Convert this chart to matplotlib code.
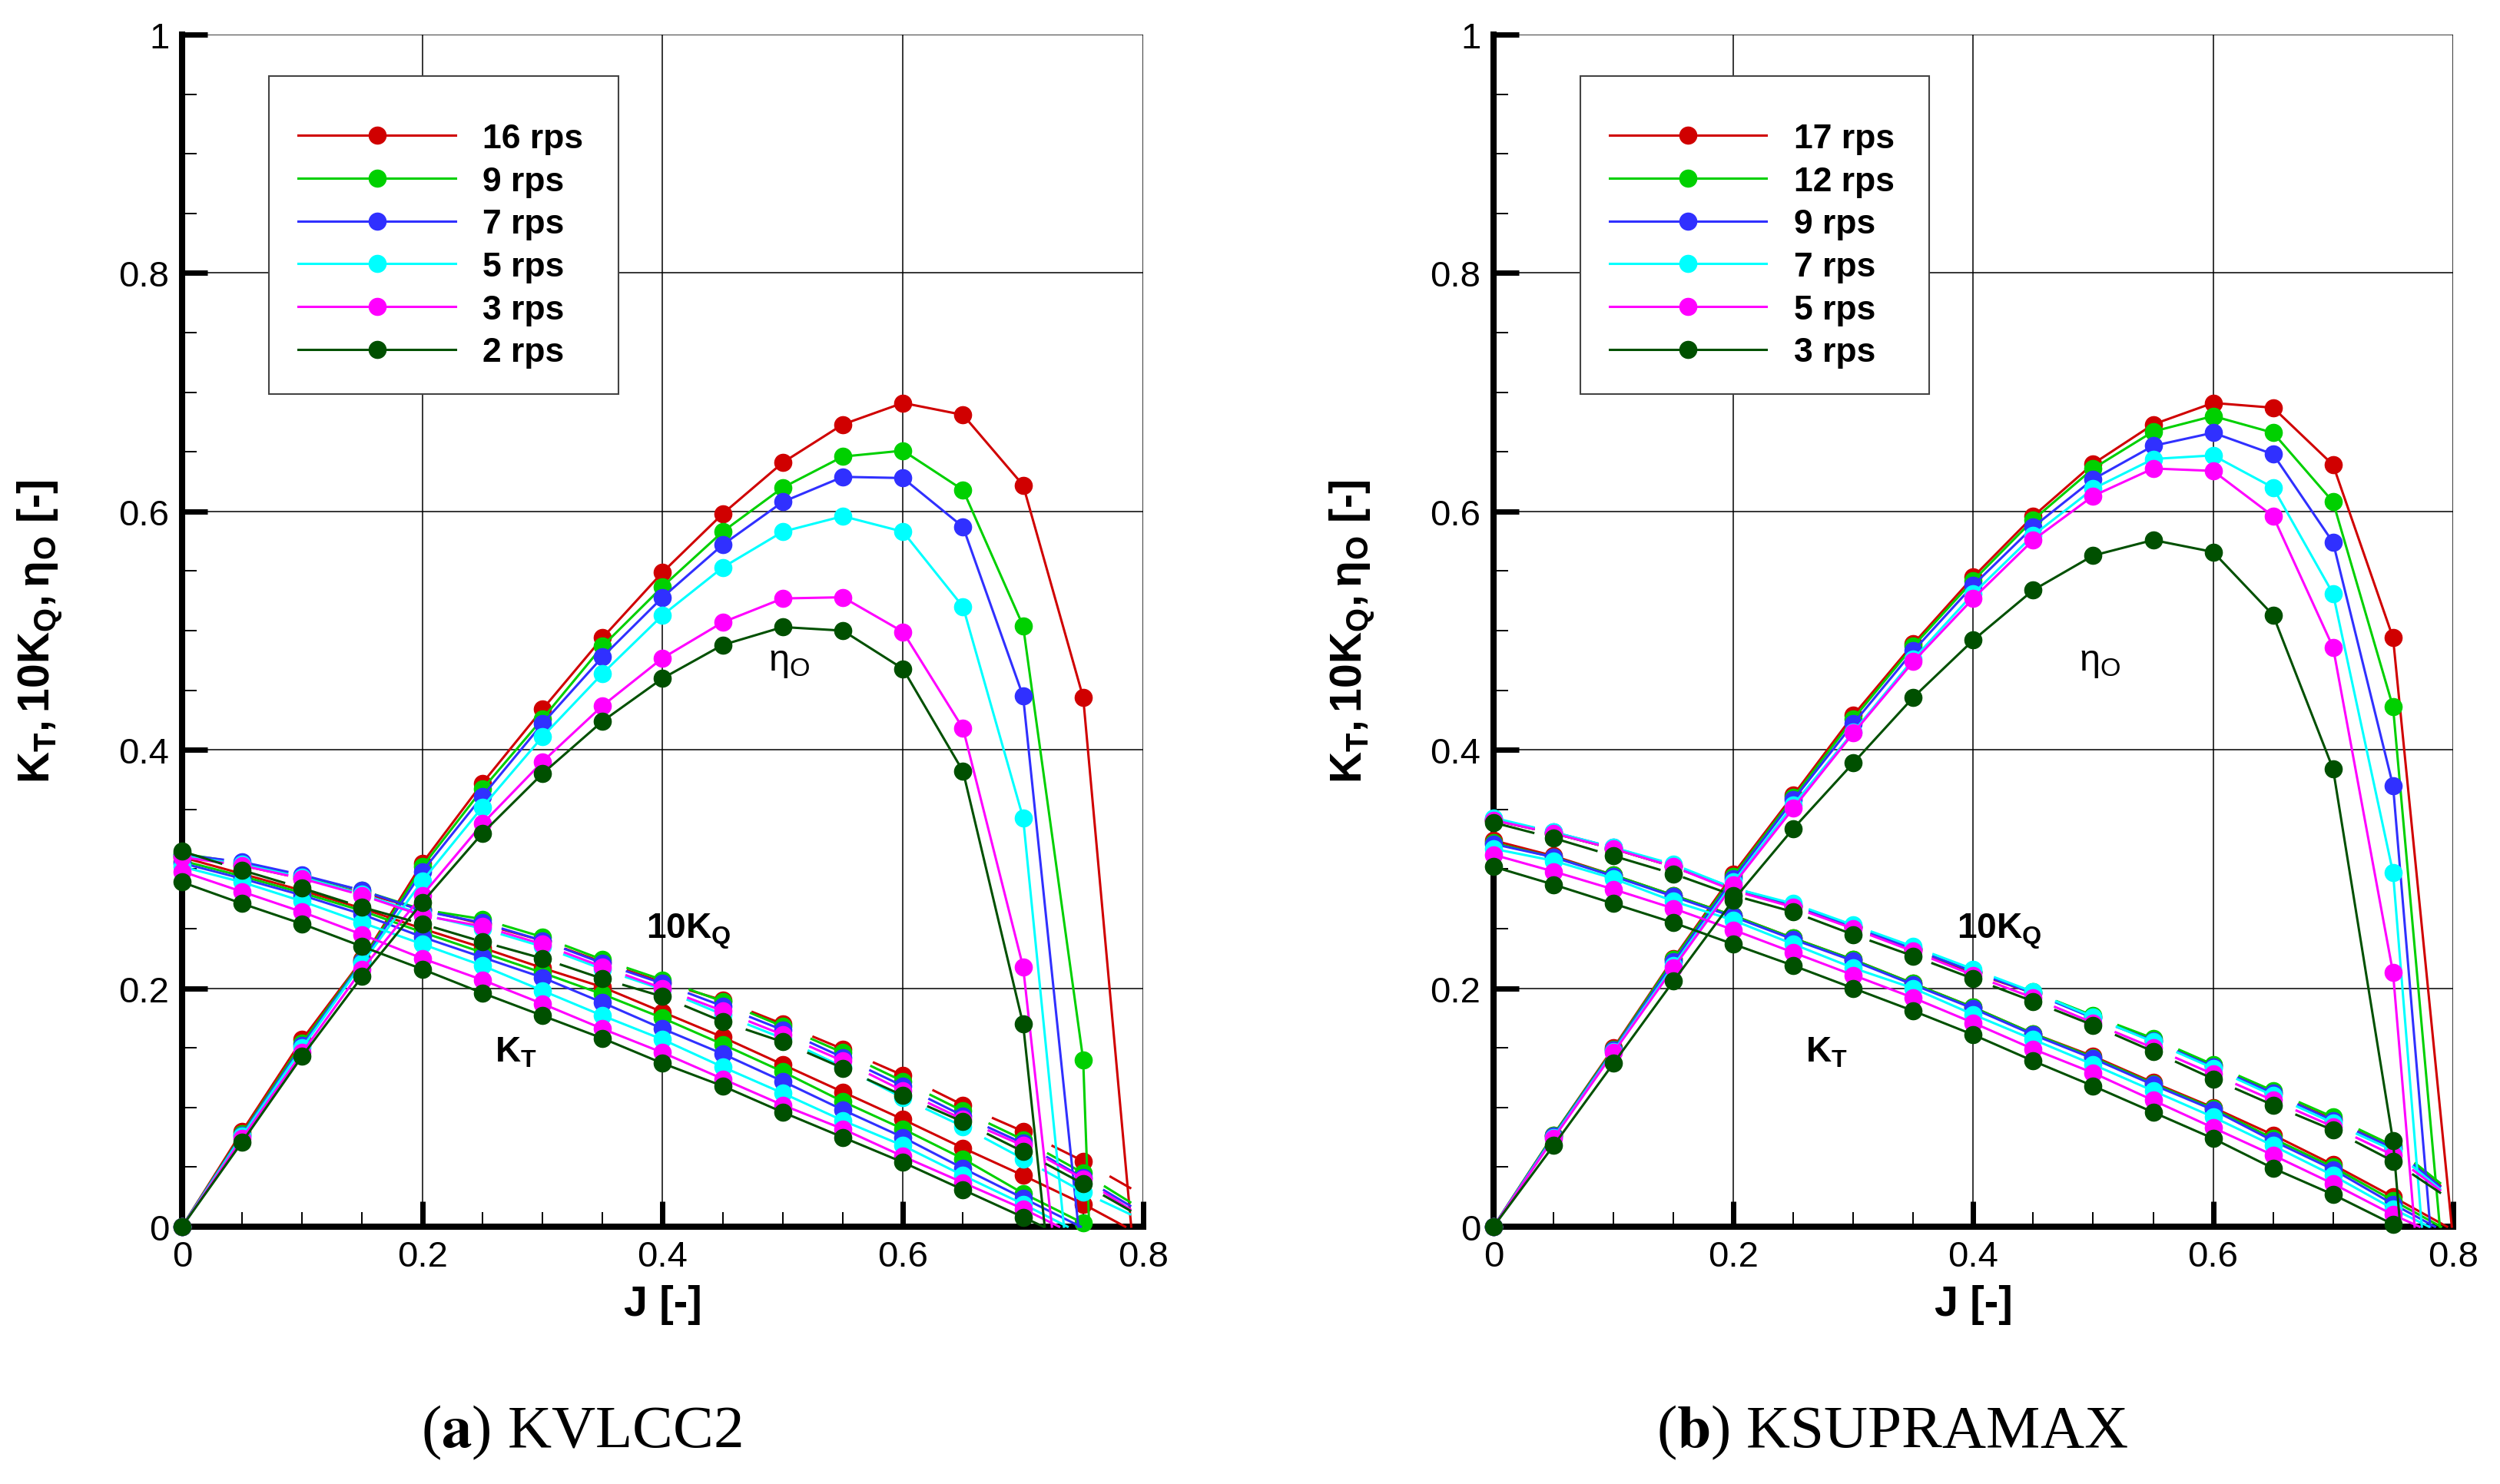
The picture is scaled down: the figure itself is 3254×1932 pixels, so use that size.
import numpy as np
import matplotlib
matplotlib.use("Agg")
from matplotlib import pyplot as plt
from matplotlib.patches import Rectangle
from matplotlib.lines import Line2D
from matplotlib.ticker import MultipleLocator, FuncFormatter

plt.rcParams['font.family'] = ['Liberation Sans', 'DejaVu Sans']
plt.rcParams['mathtext.fontset'] = 'custom'
plt.rcParams['mathtext.rm'] = 'Liberation Sans'
plt.rcParams['mathtext.it'] = 'Liberation Sans:italic'
plt.rcParams['mathtext.bf'] = 'Liberation Sans:bold'

# advance coefficient J
J = np.array([0, 0.05, 0.1, 0.15, 0.2, 0.25, 0.3, 0.35, 0.4, 0.45, 0.5, 0.55, 0.6, 0.65, 0.7, 0.75])
nan = np.nan

colors = ['#d00000', '#00d000', '#3030ff', '#00ffff', '#ff00ff', '#005000']

# ---- (a) KVLCC2 ----
kv_labels = ['16 rps', '9 rps', '7 rps', '5 rps', '3 rps', '2 rps']
kv_eta = [
    [0, 0.080, 0.157, 0.224, 0.305, 0.372, 0.434, 0.494, 0.549, 0.598, 0.641, 0.673, 0.691, 0.681, 0.622, 0.444],
    [0, 0.078, 0.154, 0.223, 0.302, 0.367, 0.426, 0.487, 0.537, 0.583, 0.620, 0.646, 0.651, 0.618, 0.504, 0.140],
    [0, 0.077, 0.152, 0.222, 0.298, 0.361, 0.422, 0.478, 0.528, 0.572, 0.608, 0.629, 0.628, 0.587, 0.445, nan],
    [0, 0.076, 0.150, 0.221, 0.290, 0.352, 0.411, 0.464, 0.513, 0.553, 0.583, 0.596, 0.583, 0.520, 0.343, nan],
    [0, 0.074, 0.146, 0.216, 0.278, 0.338, 0.390, 0.437, 0.477, 0.507, 0.527, 0.528, 0.499, 0.418, 0.218, nan],
    [0, 0.071, 0.143, 0.210, 0.272, 0.330, 0.380, 0.424, 0.460, 0.488, 0.503, 0.500, 0.468, 0.382, 0.170, nan],
]
kv_eta_zero = [0.790, 0.755, 0.746, 0.734, 0.724, 0.718]
kv_kt = [
    [0.310, 0.296, 0.282, 0.267, 0.250, 0.234, 0.217, 0.201, 0.180, 0.159, 0.136, 0.113, 0.090, 0.066, 0.043, 0.019],
    [0.307, 0.294, 0.280, 0.265, 0.247, 0.230, 0.213, 0.195, 0.175, 0.153, 0.130, 0.105, 0.082, 0.057, 0.028, 0.003],
    [0.305, 0.292, 0.278, 0.262, 0.243, 0.226, 0.209, 0.188, 0.166, 0.145, 0.122, 0.098, 0.075, 0.049, 0.024, nan],
    [0.302, 0.289, 0.273, 0.255, 0.237, 0.219, 0.198, 0.177, 0.157, 0.134, 0.112, 0.089, 0.068, 0.043, 0.019, nan],
    [0.298, 0.281, 0.264, 0.245, 0.225, 0.207, 0.187, 0.166, 0.146, 0.124, 0.102, 0.082, 0.059, 0.037, 0.015, nan],
    [0.289, 0.271, 0.254, 0.235, 0.216, 0.196, 0.177, 0.158, 0.137, 0.118, 0.096, 0.075, 0.054, 0.031, 0.008, nan],
]
kv_kt_zero = [0.785, 0.754, 0.748, 0.737, 0.730, 0.717]
kv_kq = [
    [0.312, 0.303, 0.292, 0.280, 0.266, 0.254, 0.240, 0.222, 0.205, 0.190, 0.170, 0.149, 0.127, 0.102, 0.080, 0.055],
    [0.313, 0.305, 0.294, 0.282, 0.266, 0.258, 0.243, 0.224, 0.207, 0.189, 0.168, 0.146, 0.122, 0.097, 0.073, 0.045],
    [0.312, 0.306, 0.295, 0.282, 0.265, 0.255, 0.240, 0.221, 0.204, 0.185, 0.165, 0.142, 0.118, 0.093, 0.070, 0.041],
    [0.311, 0.304, 0.293, 0.279, 0.262, 0.250, 0.235, 0.216, 0.199, 0.178, 0.158, 0.134, 0.108, 0.084, 0.057, 0.029],
    [0.310, 0.303, 0.292, 0.278, 0.261, 0.252, 0.237, 0.218, 0.200, 0.181, 0.161, 0.139, 0.114, 0.090, 0.068, 0.040],
    [0.315, 0.299, 0.284, 0.268, 0.254, 0.239, 0.225, 0.208, 0.193, 0.172, 0.155, 0.133, 0.110, 0.088, 0.063, 0.036],
]
kv_kq_end = [0.032, 0.020, 0.017, 0.010, 0.014, 0.013]

# ---- (b) KSUPRAMAX ----
ks_labels = ['17 rps', '12 rps', '9 rps', '7 rps', '5 rps', '3 rps']
ks_eta = [
    [0, 0.077, 0.150, 0.225, 0.296, 0.362, 0.429, 0.489, 0.545, 0.596, 0.640, 0.673, 0.691, 0.687, 0.639, 0.494],
    [0, 0.077, 0.149, 0.224, 0.294, 0.360, 0.426, 0.487, 0.542, 0.593, 0.636, 0.667, 0.680, 0.666, 0.608, 0.436],
    [0, 0.076, 0.148, 0.222, 0.292, 0.358, 0.422, 0.483, 0.538, 0.587, 0.627, 0.655, 0.666, 0.648, 0.574, 0.370],
    [0, 0.075, 0.147, 0.219, 0.289, 0.354, 0.415, 0.476, 0.531, 0.580, 0.619, 0.644, 0.647, 0.620, 0.531, 0.297],
    [0, 0.074, 0.146, 0.217, 0.287, 0.351, 0.414, 0.474, 0.527, 0.576, 0.613, 0.636, 0.634, 0.596, 0.486, 0.213],
    [0, 0.068, 0.137, 0.206, 0.274, 0.334, 0.389, 0.444, 0.492, 0.534, 0.563, 0.576, 0.566, 0.513, 0.384, 0.072],
]
ks_eta_zero = [0.799, 0.789, 0.781, 0.774, 0.768, 0.756]
ks_kt = [
    [0.324, 0.311, 0.295, 0.278, 0.261, 0.242, 0.224, 0.204, 0.184, 0.162, 0.143, 0.121, 0.100, 0.077, 0.052, 0.025],
    [0.322, 0.310, 0.295, 0.278, 0.261, 0.242, 0.224, 0.204, 0.184, 0.162, 0.142, 0.120, 0.099, 0.074, 0.050, 0.022],
    [0.321, 0.310, 0.294, 0.277, 0.260, 0.241, 0.223, 0.203, 0.183, 0.161, 0.141, 0.119, 0.098, 0.072, 0.048, 0.019],
    [0.317, 0.307, 0.292, 0.273, 0.257, 0.237, 0.217, 0.200, 0.178, 0.157, 0.136, 0.114, 0.092, 0.068, 0.043, 0.015],
    [0.312, 0.298, 0.283, 0.267, 0.249, 0.230, 0.211, 0.192, 0.171, 0.149, 0.129, 0.106, 0.083, 0.060, 0.036, 0.010],
    [0.302, 0.287, 0.271, 0.255, 0.237, 0.219, 0.200, 0.181, 0.161, 0.139, 0.118, 0.096, 0.074, 0.049, 0.027, 0.002],
]
ks_kt_zero = [0.795, 0.790, 0.785, 0.780, 0.772, 0.755]
ks_kq = [
    [0.341, 0.330, 0.317, 0.302, 0.283, 0.269, 0.251, 0.232, 0.213, 0.196, 0.176, 0.156, 0.135, 0.112, 0.090, 0.066],
    [0.341, 0.330, 0.317, 0.302, 0.283, 0.269, 0.251, 0.233, 0.214, 0.197, 0.177, 0.158, 0.136, 0.114, 0.092, 0.068],
    [0.342, 0.331, 0.318, 0.303, 0.284, 0.270, 0.252, 0.233, 0.214, 0.196, 0.175, 0.156, 0.134, 0.112, 0.089, 0.066],
    [0.343, 0.331, 0.318, 0.304, 0.284, 0.271, 0.253, 0.235, 0.216, 0.197, 0.176, 0.155, 0.133, 0.110, 0.087, 0.064],
    [0.341, 0.330, 0.317, 0.302, 0.282, 0.268, 0.250, 0.231, 0.211, 0.192, 0.171, 0.150, 0.128, 0.106, 0.084, 0.060],
    [0.339, 0.326, 0.311, 0.296, 0.278, 0.264, 0.245, 0.227, 0.208, 0.189, 0.169, 0.147, 0.124, 0.102, 0.081, 0.055],
]
ks_kq_end = [0.034, 0.036, 0.033, 0.031, 0.030, 0.028]

J_END = 0.79  # where the 10KQ fits stop


def draw_panel(ax, eta, eta_zero, kt, kt_zero, kq, kq_end, labels):
    """Draw eta, KT and 10KQ curves of one hull on the given axes."""
    lw, ms = 2.2, 16
    for i in range(6):
        c = colors[i]
        e = np.array(eta[i], float)
        t = np.array(kt[i], float)
        q = np.array(kq[i], float)
        ok_e, ok_t = ~np.isnan(e), ~np.isnan(t)
        # eta_0
        ax.plot(np.append(J[ok_e], eta_zero[i]), np.append(e[ok_e], 0), color=c, lw=lw,
                clip_on=False, zorder=3)
        ax.plot(J, e, 'o', color=c, ms=ms, clip_on=False, zorder=3)
        # K_T
        ax.plot(np.append(J[ok_t], kt_zero[i]), np.append(t[ok_t], 0), color=c, lw=lw,
                clip_on=False, zorder=3)
        ax.plot(J, t, 'o', color=c, ms=ms, clip_on=False, zorder=3)
        # 10 K_Q
        ax.plot(np.append(J, J_END), np.append(q, kq_end[i]), color=c, lw=lw,
                linestyle=(0, (18, 10)), clip_on=False, zorder=3)
        ax.plot(J, q, 'o', color=c, ms=ms, clip_on=False, zorder=3)

    ax.set_xlim(0, 0.8)
    ax.set_ylim(0, 1)
    ax.xaxis.set_major_locator(MultipleLocator(0.2))
    ax.yaxis.set_major_locator(MultipleLocator(0.2))
    ax.xaxis.set_minor_locator(MultipleLocator(0.05))
    ax.yaxis.set_minor_locator(MultipleLocator(0.05))
    fmt = FuncFormatter(lambda v, p: f'{v:g}')
    ax.xaxis.set_major_formatter(fmt)
    ax.yaxis.set_major_formatter(fmt)
    ax.set_axisbelow(True)
    ax.grid(which='major', color='black', lw=1.1)
    for s in ['top', 'right']:
        ax.spines[s].set_visible(False)
    for s in ['left', 'bottom']:
        ax.spines[s].set_linewidth(5.8)
    ax.tick_params(which='major', direction='in', length=24, width=5, labelsize=34, pad=12)
    ax.tick_params(which='minor', direction='in', length=13.5, width=1.4)

    ax.set_xlabel('J [-]', fontsize=40, fontweight='bold', va='top')
    ax.xaxis.set_label_coords(0.5, -0.048)
    ax.set_ylabel(r'$\mathbf{K_T,10K_Q,\eta_O}$ [-]', fontsize=41, fontweight='bold')
    ax.yaxis.set_label_coords(-0.122, 0.5)

    ax.text(0.488, 0.467, r'$\mathrm{\eta_O}$', fontsize=35, ha='left', va='baseline')
    ax.text(0.386, 0.242, r'$\mathbf{10K_Q}$', fontsize=33, ha='left', va='baseline')
    ax.text(0.260, 0.139, r'$\mathbf{K_T}$', fontsize=33, ha='left', va='baseline')

    # legend box
    ax.add_patch(Rectangle((0.0903, 0.6985), 0.3637, 0.2667, transform=ax.transAxes,
                           facecolor='white', edgecolor='#444444', lw=1.5, zorder=5))
    handles = [Line2D([], [], color=colors[i], lw=lw, marker='o', ms=ms) for i in range(6)]
    leg = ax.legend(handles, labels, loc='upper left', bbox_to_anchor=(0.121, 0.926),
                    frameon=False, borderpad=0, borderaxespad=0, numpoints=1,
                    handlelength=4.6, handletextpad=0.8, labelspacing=0.33,
                    prop={'size': 32, 'weight': 'bold'})
    leg.set_zorder(6)


fig = plt.figure(figsize=(32.54, 19.33), dpi=100)
ax1 = fig.add_axes([0.0728, 0.1733, 0.3845, 0.8029])
ax2 = fig.add_axes([0.5974, 0.1733, 0.3838, 0.8029])

draw_panel(ax1, kv_eta, kv_eta_zero, kv_kt, kv_kt_zero, kv_kq, kv_kq_end, kv_labels)
draw_panel(ax2, ks_eta, ks_eta_zero, ks_kt, ks_kt_zero, ks_kq, ks_kq_end, ks_labels)

fig.text(0.2326, 0.0352, r'($\mathbf{a}$) KVLCC2', fontsize=57, family='Liberation Serif',
         math_fontfamily='stix', ha='center', va='center')
fig.text(0.7569, 0.0352, r'($\mathbf{b}$) KSUPRAMAX', fontsize=57, family='Liberation Serif',
         math_fontfamily='stix', ha='center', va='center')

fig.savefig('out.png', dpi=100, facecolor='white')
